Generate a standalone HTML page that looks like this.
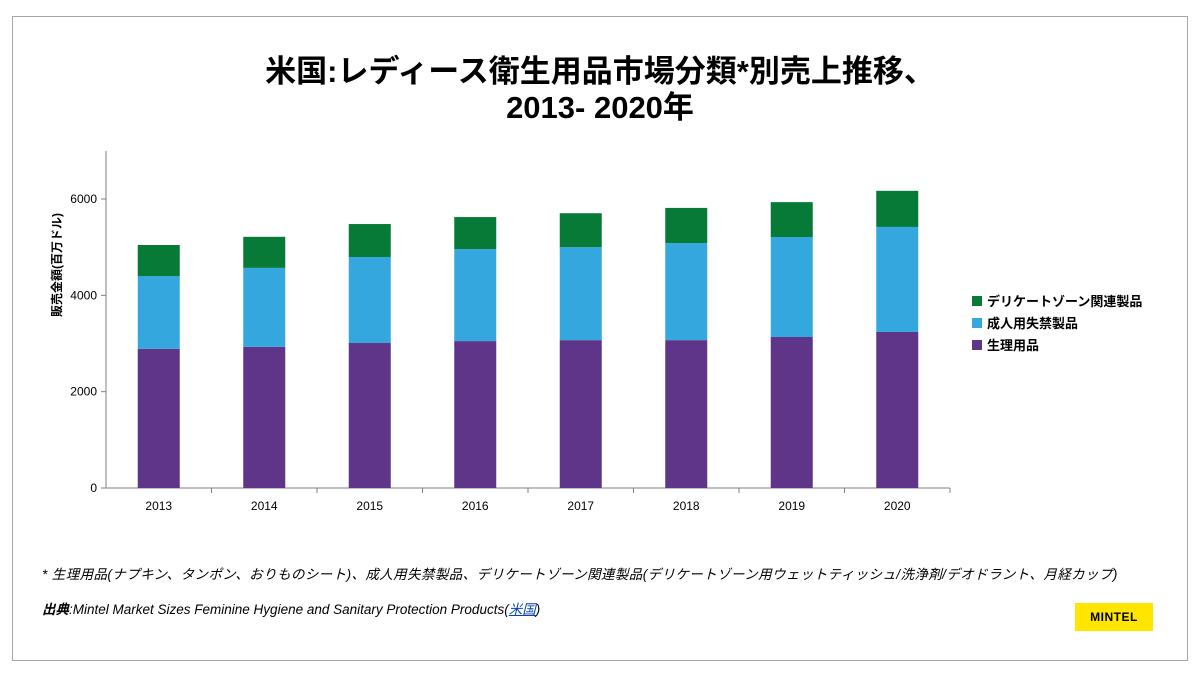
<!DOCTYPE html>
<html><head><meta charset="utf-8"><style>
body{margin:0;width:1200px;height:675px;background:#fff;font-family:"Liberation Sans","Noto Sans CJK JP",sans-serif;position:relative;overflow:hidden}
.frame{position:absolute;left:12px;top:16px;width:1174px;height:643px;border:1px solid #a6a6a6}
.title{position:absolute;left:0;width:1200px;top:54px;text-align:center;font-weight:bold;font-size:31px;line-height:36px;color:#000}
.note{position:absolute;left:42px;font-style:italic;font-size:13.5px;color:#000}
.logo{position:absolute;left:1075px;top:603px;width:78px;height:28px;background:#ffe500;font-weight:bold;font-size:12px;text-align:center;line-height:28px;letter-spacing:0.5px}
</style></head><body>
<div class="frame"></div>
<div class="title">米国:レディース衛生用品市場分類*別売上推移、<br>2013‐ 2020年</div>
<svg id="chart" width="1200" height="675" style="position:absolute;left:0;top:0"></svg>
<div class="note" style="top:563px;letter-spacing:0.4px">* 生理用品(ナプキン、タンポン、おりものシート)、成人用失禁製品、デリケートゾーン関連製品(デリケートゾーン用ウェットティッシュ/洗浄剤/デオドラント、月経カップ)</div>
<div class="note" style="top:598px"><b>出典</b>:Mintel Market Sizes Feminine Hygiene and Sanitary Protection Products(<a href="#" style="color:#0645ad">米国</a>)</div>
<div class="logo">MINTEL</div>
<script>
const categories=["2013","2014","2015","2016","2017","2018","2019","2020"];
const menstrual=[2890,2930,3010,3050,3070,3070,3135,3240];
const incontinence=[1510,1640,1785,1910,1930,2015,2075,2180];
const intimate=[645,645,685,665,705,730,725,750];
const yTicks=[0,2000,4000,6000];
const seriesNames=["デリケートゾーン関連製品","成人用失禁製品","生理用品"];
const colors={menstrual:"#5e3589",incontinence:"#33a7de",intimate:"#067a36"};
const NS="http://www.w3.org/2000/svg",svg=document.getElementById('chart');
const x0=106,x1=950,y0=488,pxPer=289/6000,band=(x1-x0)/categories.length,bw=42;
const y=v=>y0-v*pxPer;
function mk(t,a,txt){const e=document.createElementNS(NS,t);for(const k in a)e.setAttribute(k,a[k]);if(txt!=null)e.textContent=txt;svg.appendChild(e);return e;}
let e;
e=mk('line',{x1:x0,y1:151,x2:x0,y2:y0,stroke:'#808080'});


e=mk('line',{x1:x0-5,y1:y0,x2:x1,y2:y0,stroke:'#808080'});


yTicks.forEach(t=>{
 e=mk('line',{x1:x0-5,y1:y(t),x2:x0,y2:y(t),stroke:'#808080'});
 
 
 e=mk('text',{x:x0-9,y:y(t)+4,'text-anchor':'end','font-size':12,fill:'#000'},String(t));
 
 
});
e=mk('text',{x:0,y:0,transform:'translate(61,265) rotate(-90)','text-anchor':'middle','font-size':12,'font-weight':'bold',fill:'#000'},'販売金額(百万ドル)');


categories.forEach((c,i)=>{
 const cx=x0+band*(i+0.5);
 e=mk('line',{x1:x0+band*(i+1),y1:y0,x2:x0+band*(i+1),y2:y0+5,stroke:'#808080'});
 
 
 e=mk('text',{x:cx,y:y0+22,'text-anchor':'middle','font-size':12,fill:'#000'},c);
 
 
 let base=0;
 [['menstrual',menstrual],['incontinence',incontinence],['intimate',intimate]].forEach(([k,arr])=>{
  const v=arr[i];
  e=mk('rect',{x:cx-bw/2,y:y(base+v),width:bw,height:v*pxPer,fill:colors[k]});
  
  
  base+=v;
 });
});
[colors.intimate,colors.incontinence,colors.menstrual].forEach((col,i)=>{
 const ly=301+i*22;
 e=mk('rect',{x:972,y:ly-5,width:10,height:10,fill:col});
 
 
 e=mk('text',{x:987,y:ly+5,'font-size':13,'font-weight':'bold',fill:'#000'},seriesNames[i]);
 
 
});
</script>
</body></html>
